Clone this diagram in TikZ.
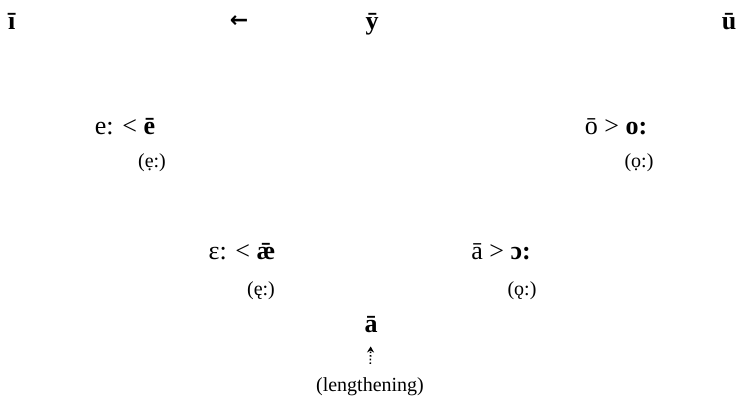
\documentclass[tikz,border=0pt]{standalone}
\usepackage{fontspec}
\setmainfont{Liberation Serif}
\newfontfamily\arrfont{DejaVu Sans}
\usetikzlibrary{arrows.meta}

\begin{document}
\begin{tikzpicture}[x=1pt, y=-1pt,
    vow/.style={anchor=base, inner sep=0pt, font=\fontsize{26}{30}\selectfont},
    sub/.style={anchor=base, inner sep=0pt, font=\fontsize{20}{24}\selectfont},
    arr/.style={-{Stealth[length=6pt, width=7pt]}, dotted, line width=1.6pt}
  ]
  \useasboundingbox (0,0) rectangle (740,399);

  % high vowels
  \node[vow] (i) at (12,29) {\textbf{ī}};
  \node[vow, font=\arrfont\bfseries\fontsize{22}{26}\selectfont] (left) at (239,27) {←};
  \node[vow] (y) at (372,29) {\textbf{ȳ}};
  \node[vow] (u) at (729,29) {\textbf{ū}};

  % mid vowels
  \node[vow] (e) at (125,134) {e: < \textbf{ē}};
  \node[sub] (ecl) at (152,167) {(ẹ:)};
  \node[vow] (o) at (616,134) {ō > \textbf{o:}};
  \node[sub] (ocl) at (639,167) {(ọ:)};

  % low-mid vowels
  \node[vow] (ae) at (242,259) {ɛ: < \textbf{ǣ}};
  \node[sub] (aecl) at (261,295) {(ę:)};
  \node[vow] (a) at (501,259) {ā > \textbf{ɔ:}};
  \node[sub] (acl) at (522,295) {(ǫ:)};

  % lengthening
  \node[vow] (abar) at (371,332) {\textbf{ā}};
  \node[sub] (leng) at (370,391) {(lengthening)};
  \draw[arr, shorten <=13pt, shorten >=14pt] (leng.north) -- (abar.south);
\end{tikzpicture}
\end{document}
